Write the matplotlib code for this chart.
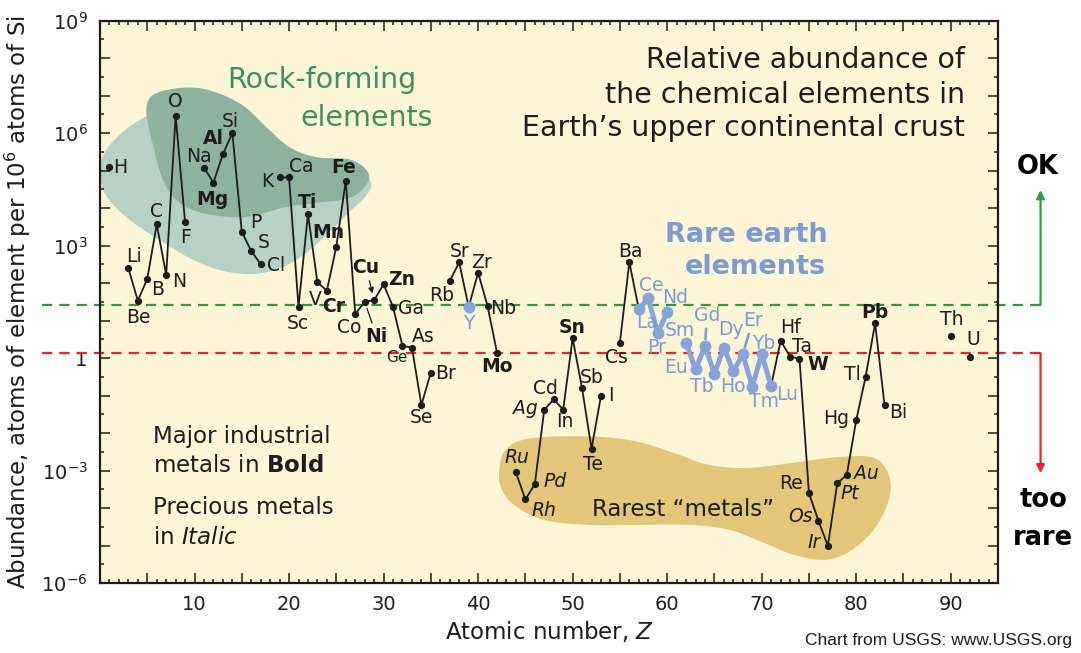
import numpy as np
import matplotlib
matplotlib.use("Agg")
import matplotlib.pyplot as plt
from matplotlib.ticker import FixedLocator, MultipleLocator, FuncFormatter, NullFormatter

plt.rcParams['font.family'] = ['DejaVu Sans']
plt.rcParams['mathtext.default'] = 'regular'

# ---- data: abundance in upper continental crust, atoms per 10^6 atoms of Si ----
atomic_number = [1, 3, 4, 5, 6, 7, 8, 9, 11, 12, 13, 14, 15, 16, 17, 19, 20, 21, 22, 23,
                 24, 25, 26, 27, 28, 29, 30, 31, 32, 33, 34, 35, 37, 38, 39, 40, 41, 42,
                 44, 45, 46, 47, 48, 49, 50, 51, 52, 53, 55, 56, 57, 58, 59, 60, 62, 63,
                 64, 65, 66, 67, 68, 69, 70, 71, 72, 73, 74, 75, 76, 77, 78, 79, 80, 81,
                 82, 83, 90, 92]
symbols = ['H', 'Li', 'Be', 'B', 'C', 'N', 'O', 'F', 'Na', 'Mg', 'Al', 'Si', 'P', 'S', 'Cl',
           'K', 'Ca', 'Sc', 'Ti', 'V', 'Cr', 'Mn', 'Fe', 'Co', 'Ni', 'Cu', 'Zn', 'Ga', 'Ge',
           'As', 'Se', 'Br', 'Rb', 'Sr', 'Y', 'Zr', 'Nb', 'Mo', 'Ru', 'Rh', 'Pd', 'Ag', 'Cd',
           'In', 'Sn', 'Sb', 'Te', 'I', 'Cs', 'Ba', 'La', 'Ce', 'Pr', 'Nd', 'Sm', 'Eu', 'Gd',
           'Tb', 'Dy', 'Ho', 'Er', 'Tm', 'Yb', 'Lu', 'Hf', 'Ta', 'W', 'Re', 'Os', 'Ir', 'Pt',
           'Au', 'Hg', 'Tl', 'Pb', 'Bi', 'Th', 'U']
abundance = [1.23e5, 250, 34, 129, 3.7e3, 166, 2.9e6, 4.2e3, 1.2e5, 4.8e4, 2.75e5, 1.0e6,
             2.3e3, 720, 320, 6.6e4, 6.6e4, 23, 6.9e3, 105, 63, 930, 5.4e4, 14.8, 32, 35,
             93, 23, 2.1, 1.9, 0.056, 0.41, 115, 355, 23, 190, 24.5, 1.4, 8.9e-4, 1.7e-4,
             4.3e-4, 0.042, 0.079, 0.042, 3.4, 0.155, 3.8e-3, 0.098, 2.6, 363, 20, 39, 4.6,
             17.4, 2.6, 0.50, 2.1, 0.38, 1.9, 0.44, 1.26, 0.174, 1.26, 0.18, 2.9, 1.1, 0.95,
             2.5e-4, 4.6e-5, 9.8e-6, 4.6e-4, 7.6e-4, 0.022, 0.32, 8.5, 0.056, 4.0, 1.1]

bold_elements = ['Mg', 'Al', 'Ti', 'Mn', 'Fe', 'Cr', 'Cu', 'Zn', 'Ni', 'Mo', 'Sn', 'W', 'Pb']
italic_elements = ['Ru', 'Rh', 'Pd', 'Ag', 'Os', 'Ir', 'Pt', 'Au']
rare_earths = ['Y', 'La', 'Ce', 'Pr', 'Nd', 'Sm', 'Eu', 'Gd', 'Tb', 'Dy', 'Ho', 'Er', 'Tm',
               'Yb', 'Lu']

ok_level = 26.0      # "OK" threshold
rare_level = 1.35    # "too rare" threshold

x_ticklabels = ['10', '20', '30', '40', '50', '60', '70', '80', '90']

# label offsets from each point, in pixels (dx, dy up)
label_offset = {
    'H': (11, 0), 'Li': (6, 12), 'Be': (1, -17), 'B': (10, -11), 'C': (0, 13), 'N': (13, -7),
    'O': (0, 14), 'F': (0, -15), 'Na': (-5, 11), 'Mg': (-1, -17), 'Al': (-9, 16),
    'Si': (-2, 12), 'P': (14, 10), 'S': (12, 8), 'Cl': (15, -1), 'K': (-12, -4),
    'Ca': (12, 11), 'Sc': (-1, -16), 'Ti': (0, 12), 'V': (-2, -17), 'Cr': (7, -16),
    'Mn': (-8, 14), 'Fe': (-2, 13), 'Co': (-6, -13), 'Ni': (12, -35), 'Cu': (-8, 33),
    'Zn': (18, 5), 'Ga': (18, -1), 'Ge': (-6, -11), 'As': (11, 11), 'Se': (0, -12),
    'Br': (15, -1), 'Rb': (-8, -15), 'Sr': (0, 11), 'Y': (0, -16), 'Zr': (3, 10),
    'Nb': (16, -2), 'Mo': (0, -14), 'Ru': (1, 15), 'Rh': (19, -11), 'Pd': (20, 3),
    'Ag': (-19, 1), 'Cd': (-8, 11), 'In': (2, -12), 'Sn': (-1, 11), 'Sb': (10, 11),
    'Te': (1, -16), 'I': (10, 0), 'Cs': (-3, -15), 'Ba': (1, 11), 'La': (8, -13),
    'Ce': (3, 13), 'Pr': (-1, -14), 'Nd': (8, 14), 'Sm': (-6, 12), 'Eu': (-20, 2),
    'Gd': (2, 31), 'Tb': (-13, -13), 'Dy': (7, 18), 'Ho': (0, -15), 'Er': (10, 34),
    'Tm': (12, -15), 'Yb': (2, 11), 'Lu': (16, -9), 'Hf': (10, 13), 'Ta': (12, 10),
    'W': (18, -6), 'Re': (-18, 10), 'Os': (-18, 4), 'Ir': (-14, 3), 'Pt': (13, -10),
    'Au': (20, 2), 'Hg': (-20, 2), 'Tl': (-13, 2), 'Pb': (0, 11), 'Bi': (14, -7),
    'Th': (1, 16), 'U': (4, 17),
}
leader = {'Cu': '-|>', 'Ni': '-', 'Gd': '-', 'Er': '-'}

# outlines of the shaded groups, as (Z, log10 abundance) control points
light_outline = [(0.16, 4.62), (1.22, 4.14), (3.44, 3.63), (6.29, 3.15), (9.46, 2.67),
                 (12.63, 2.35), (15.8, 2.24), (18.45, 2.35), (21.09, 2.67), (23.73, 3.23),
                 (26.37, 3.90), (27.96, 4.27), (28.7, 4.62), (27.8, 4.85), (24.0, 4.7),
                 (18.0, 5.0), (12.0, 6.0), (7.0, 6.55), (4.18, 6.35), (1.53, 5.82),
                 (0.16, 5.28)]
dark_outline = [(4.92, 6.70), (6.29, 7.10), (10.52, 7.20), (14.75, 6.80), (17.6, 6.16),
                (20.03, 5.63), (22.89, 5.36), (26.69, 5.28), (28.49, 4.83), (26.69, 4.30),
                (22.89, 4.14), (19.71, 4.03), (15.06, 3.76), (9.78, 3.95), (7.03, 4.56),
                (5.55, 5.74)]
gold_outline = [(42.23, -2.98), (42.76, -2.50), (44.35, -2.21), (47.52, -2.10),
                (52.8, -2.10), (57.03, -2.24), (61.26, -2.58), (64.43, -2.85),
                (68.66, -2.93), (73.94, -2.77), (78.17, -2.64), (81.86, -2.66),
                (83.45, -3.12), (83.45, -3.78), (81.86, -4.58), (79.22, -5.17),
                (76.59, -5.38), (73.41, -5.25), (70.24, -4.93), (66.54, -4.58),
                (62.31, -4.45), (57.03, -4.45), (51.75, -4.45), (46.98, -4.32),
                (43.82, -3.92), (42.44, -3.46)]

# ---- colours ----
bg = '#fcf6d6'
light_green = '#b7d1c6'
dark_green = '#8db39f'
gold = '#e2c679'
title_green = '#3b9162'
ree_blue = '#87a3dc'
ree_text = '#7b9ad6'
ok_green = '#2f9a3c'
rare_red = '#e8232b'
ink = '#1e1c1c'


def smooth_closed(points, n=24):
    p = np.asarray(points, float)
    m = len(p)
    t = np.linspace(0, 1, n, endpoint=False)[:, None]
    segs = []
    for i in range(m):
        p0, p1, p2, p3 = p[i - 1], p[i], p[(i + 1) % m], p[(i + 2) % m]
        segs.append(0.5 * (2 * p1 + (-p0 + p2) * t + (2 * p0 - 5 * p1 + 4 * p2 - p3) * t ** 2
                           + (-p0 + 3 * p1 - 3 * p2 + p3) * t ** 3))
    return np.vstack(segs)


W, H = 1081, 653
fig = plt.figure(figsize=(W / 100, H / 100), dpi=100)
fig.patch.set_facecolor('white')
ax = fig.add_axes([100 / W, 1 - 583 / H, 898 / W, 562.3 / H])
ax.set_facecolor(bg)
ax.set_yscale('log')
ax.set_xlim(0, 95)
ax.set_ylim(1e-6, 1e9)

# shaded groups
for outline, col, zo in [(light_outline, light_green, 1.0), (dark_outline, dark_green, 1.1),
                         (gold_outline, gold, 1.0)]:
    s = smooth_closed(outline)
    ax.fill(s[:, 0], 10 ** s[:, 1], color=col, lw=0, zorder=zo)

# threshold lines, extended past the frame with arrows on the right
x_left, x_right = -6.1, 99.5
for lvl, col in [(ok_level, ok_green), (rare_level, rare_red)]:
    ax.plot([x_left, x_right], [lvl, lvl], color=col, lw=1.6, dashes=(4.6, 3.2),
            clip_on=False, zorder=2)
ax.annotate('', xy=(x_right, 10 ** 4.48), xytext=(x_right, ok_level),
            arrowprops=dict(arrowstyle='-|>', color=ok_green, lw=1.6, mutation_scale=12,
                            shrinkA=0, shrinkB=0), annotation_clip=False)
ax.annotate('', xy=(x_right, 10 ** -3.07), xytext=(x_right, rare_level),
            arrowprops=dict(arrowstyle='-|>', color=rare_red, lw=1.6, mutation_scale=12,
                            shrinkA=0, shrinkB=0), annotation_clip=False)
ax.text(x_right - 0.3, 10 ** 5.09, 'OK', ha='center', va='center', fontsize=18.5,
        fontweight='bold', color='black', clip_on=False)
ax.text(x_right + 0.3, 10 ** -3.79, 'too', ha='center', va='center', fontsize=18.5,
        fontweight='bold', color='black', clip_on=False)
ax.text(x_right + 0.3, 10 ** -4.80, 'rare', ha='center', va='center', fontsize=18.5,
        fontweight='bold', color='black', clip_on=False)

# data
zs = np.array(atomic_number, float)
ab = np.array(abundance, float)
is_ree = np.array([s in rare_earths for s in symbols])


def with_gaps(xv, yv):
    gx, gy = [], []
    for i in range(len(xv)):
        if i > 0 and xv[i] - xv[i - 1] > 1:
            gx.append(np.nan)
            gy.append(np.nan)
        gx.append(xv[i])
        gy.append(yv[i])
    return gx, gy


gx, gy = with_gaps(zs, ab)
ax.plot(gx, gy, color=ink, lw=1.3, zorder=3, solid_joinstyle='miter')
ax.plot(zs[~is_ree], ab[~is_ree], 'o', color=ink, ms=4.2, zorder=4)

lanth = is_ree & (zs >= 57)
rx, ry = with_gaps(zs[lanth], ab[lanth])
ax.plot(rx, ry, color=ree_blue, lw=3.6, zorder=5, solid_capstyle='round')
ax.plot(zs[is_ree], ab[is_ree], 'o', color=ree_blue, ms=7.5, zorder=6)

for sym, zval, aval in zip(symbols, zs, ab):
    dx, dy = label_offset[sym]
    kw = dict(fontsize=13.5, color=ink, ha='center', va='center', zorder=7)
    if sym in bold_elements:
        kw['fontweight'] = 'bold'
    if sym in italic_elements:
        kw['fontstyle'] = 'italic'
    if sym in rare_earths:
        kw['color'] = ree_text
    if sym == 'Ge':
        kw['fontsize'] = 11
    if sym in leader:
        lc = ree_text if sym in rare_earths else ink
        kw['arrowprops'] = dict(arrowstyle=leader[sym], color=lc,
                                lw=1.8 if sym in rare_earths else 0.9,
                                shrinkA=1, shrinkB=5, mutation_scale=8)
    ax.annotate(sym, (zval, aval), xytext=(dx, dy), textcoords='offset pixels', **kw)

# axes styling
ax.xaxis.set_major_locator(MultipleLocator(5))
ax.xaxis.set_minor_locator(MultipleLocator(1))
ax.xaxis.set_major_formatter(FuncFormatter(
    lambda v, p: x_ticklabels[int(round(v)) // 10 - 1]
    if int(round(v)) % 10 == 0 and 10 <= v <= 90 else ''))

dec = np.arange(-6, 10)
ax.yaxis.set_major_locator(FixedLocator(10.0 ** dec))
ax.yaxis.set_minor_locator(FixedLocator(10.0 ** (dec[:-1] + 0.5)))
ax.yaxis.set_minor_formatter(NullFormatter())


def ylabel_fmt(v, p):
    k = int(round(np.log10(v)))
    if k % 3:
        return ''
    return '1' if k == 0 else '$10^{%d}$' % k


ax.yaxis.set_major_formatter(FuncFormatter(ylabel_fmt))
ax.tick_params(which='both', direction='in', top=True, right=True, width=1.1, color=ink)
ax.tick_params(which='major', length=7)
ax.tick_params(which='minor', length=3)
ax.tick_params(axis='x', labelsize=14, pad=9, labelcolor=ink)
ax.tick_params(axis='y', labelsize=14, pad=9, labelcolor=ink)
for sp in ax.spines.values():
    sp.set_linewidth(1.6)
    sp.set_color(ink)

ax.set_xlabel('Atomic number, $\\it{Z}$', fontsize=16.5, color=ink, labelpad=3)
ax.set_ylabel('Abundance, atoms of element per 10$^6$ atoms of Si', fontsize=16.5,
              color=ink, labelpad=6)

# annotations
def fx(px):
    return px / W


def fy(py):
    return 1 - py / H


for txt, py in [('Relative abundance of', 60), ('the chemical elements in', 95),
                ('Earth\u2019s upper continental crust', 128)]:
    fig.text(fx(965), fy(py), txt, ha='right', va='center', fontsize=20.5, color=ink)

fig.text(fx(322), fy(80), 'Rock-forming', ha='center', va='center', fontsize=20.5,
         color=title_green)
fig.text(fx(367), fy(118), 'elements', ha='center', va='center', fontsize=20.5,
         color=title_green)
fig.text(fx(746), fy(235), 'Rare earth', ha='center', va='center', fontsize=19.5,
         fontweight='bold', color=ree_text)
fig.text(fx(755), fy(267), 'elements', ha='center', va='center', fontsize=19.5,
         fontweight='bold', color=ree_text)

fig.text(fx(153), fy(437), 'Major industrial', ha='left', va='center', fontsize=16.5, color=ink)
fig.text(fx(153), fy(466), 'metals in $\\mathbf{Bold}$', ha='left', va='center',
         fontsize=16.5, color=ink)
fig.text(fx(153), fy(508), 'Precious metals', ha='left', va='center', fontsize=16.5, color=ink)
fig.text(fx(153), fy(537), 'in $\\mathit{Italic}$', ha='left', va='center', fontsize=16.5,
         color=ink)
fig.text(fx(683), fy(510), 'Rarest \u201cmetals\u201d', ha='center', va='center',
         fontsize=16.5, color=ink)

fig.text(fx(1072), fy(641), 'Chart from USGS: www.USGS.org', ha='right', va='center',
         fontsize=12.5, family='Liberation Sans', color=ink)

fig.savefig('out.png', dpi=100, facecolor='white')
